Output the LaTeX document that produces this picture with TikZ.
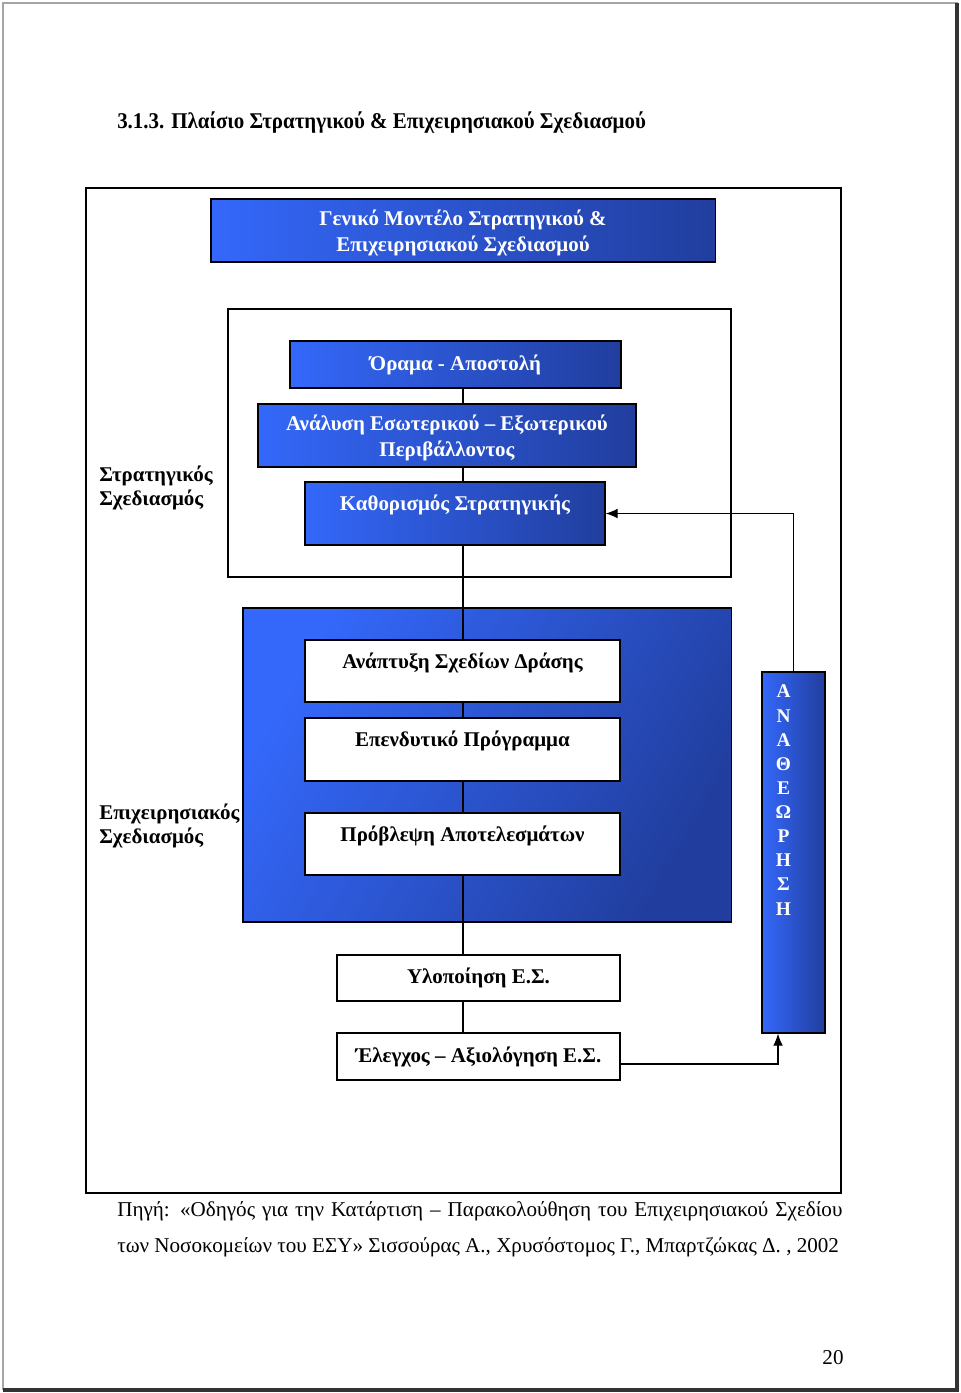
\documentclass[tikz,border=0pt]{standalone}
\usepackage{fontspec}
\setmainfont{Liberation Serif}
\usetikzlibrary{calc, arrows, arrows.meta, positioning, backgrounds}

\definecolor{bluelight}{RGB}{52,104,250}
\definecolor{bluedark}{RGB}{33,62,158}

\newcommand{\boxfont}{\fontsize{14.9}{18.5}\selectfont\bfseries}

\tikzset{
  bluebox/.style={draw=black, line width=0.8pt, left color=bluelight, right color=bluedark,
    text=white, font=\boxfont, align=center, inner sep=0pt},
  whitebox/.style={draw=black, line width=0.8pt, fill=white, font=\boxfont, align=center, inner sep=0pt},
  sidelabel/.style={font=\fontsize{14.9}{17}\selectfont\bfseries, align=left, anchor=west, inner sep=0pt},
  link/.style={line width=0.8pt},
  tip/.style={-{Latex[length=3mm, width=2.4mm]}},
}

\begin{document}
\begin{tikzpicture}[x=0.025cm, y=-0.025cm, font=\fontsize{15}{18}\selectfont]
\useasboundingbox (0,0) rectangle (960,1393);

% page
\draw[gray!70, line width=1pt] (3,3) rectangle (957,1389);
\draw[black!80, line width=2.5pt] (3,1390) -- (957,1390) -- (957,3);

\node[font=\fontsize{16}{18}\selectfont\bfseries, anchor=west, inner sep=0pt, xscale=0.93] (title) at (117,123)
  {3.1.3. Πλαίσιο Στρατηγικού \& Επιχειρησιακού Σχεδιασμού};

% frames
\draw[line width=1pt] (86,188) rectangle (841,1193);
\draw[line width=1pt] (228,309) rectangle (731,577);

\node[bluebox, minimum width=12.6cm, minimum height=1.575cm] (model) at (463,230.5)
  {\rule{0pt}{15pt}Γενικό Μοντέλο Στρατηγικού \&\\Επιχειρησιακού Σχεδιασμού};

% strategic part
\node[bluebox, minimum width=8.275cm, minimum height=1.175cm] (orama) at (455.5,364.5) {Όραμα - Αποστολή};
\node[bluebox, minimum width=9.45cm, minimum height=1.575cm] (analysi) at (447,435.5)
  {\rule{0pt}{15pt}Ανάλυση Εσωτερικού – Εξωτερικού\\Περιβάλλοντος};
\node[bluebox, minimum width=7.5cm, minimum height=1.575cm] (kathor) at (455,513.5)
  {Καθορισμός Στρατηγικής\\[-3.5pt]\mbox{}};

\node[sidelabel] (strat) at (99,488) {Στρατηγικός\\Σχεδιασμός};

% operational part
\node[bluebox, minimum width=12.2cm, minimum height=7.85cm, shading angle=60] (ops) at (487,765) {};
\coordinate (sp) at (463,0);
\draw[link] (orama.south -| sp) -- (analysi.north -| sp);
\draw[link] (analysi.south -| sp) -- (kathor.north -| sp);
\draw[link] (kathor.south -| sp) -- (ops.south -| sp);

\node[whitebox, minimum width=7.875cm, minimum height=1.55cm] (anap) at (462.5,671)
  {Ανάπτυξη Σχεδίων Δράσης\\[-3.5pt]\mbox{}};
\node[whitebox, minimum width=7.875cm, minimum height=1.575cm] (epend) at (462.5,749.5)
  {Επενδυτικό Πρόγραμμα\\[-3.5pt]\mbox{}};
\node[whitebox, minimum width=7.875cm, minimum height=1.55cm] (provl) at (462.5,844)
  {Πρόβλεψη Αποτελεσμάτων\\[-3.5pt]\mbox{}};

\node[sidelabel] (oper) at (99,825.5) {Επιχειρησιακός\\Σχεδιασμός};

\node[whitebox, minimum width=7.075cm, minimum height=1.15cm] (ylop) at (478.5,978) {Υλοποίηση Ε.Σ.};
\node[whitebox, minimum width=7.075cm, minimum height=1.175cm] (elen) at (478.5,1056.5)
  {Έλεγχος – Αξιολόγηση Ε.Σ.};
\draw[link] (ops.south -| sp) -- (ylop.north -| sp);
\draw[link] (ylop.south -| sp) -- (elen.north -| sp);

% revision bar
\node[bluebox, minimum width=1.575cm, minimum height=9.025cm] (anath) at (793.5,852.5) {};
\node[font=\fontsize{13.8}{17.15}\selectfont\bfseries, text=white, align=center, anchor=north, inner sep=0pt]
  (letters) at ($(anath.north)+(-10,13.5)$) {Α\\Ν\\Α\\Θ\\Ε\\Ω\\Ρ\\Η\\Σ\\Η};

% feedback arrows
\coordinate (up) at (778,1064);
\draw[link, tip] (elen.east |- up) -- (up) -- (up |- anath.south);
\draw[link, tip] (anath.north) -- (anath.north |- kathor.east) -- (kathor.east);

% source
\node[text width=18.125cm, align=justify, anchor=north west, inner sep=0pt,
  font=\fontsize{15}{25.6}\selectfont] (source) at (117,1201)
  {Πηγή: «Οδηγός για την Κατάρτιση – Παρακολούθηση του Επιχειρησιακού Σχεδίου\linebreak
   των Νοσοκομείων του ΕΣΥ» Σισσούρας Α., Χρυσόστομος Γ., Μπαρτζώκας Δ. , 2002};

\node[inner sep=0pt] (page) at (833,1358) {20};
\end{tikzpicture}
\end{document}
